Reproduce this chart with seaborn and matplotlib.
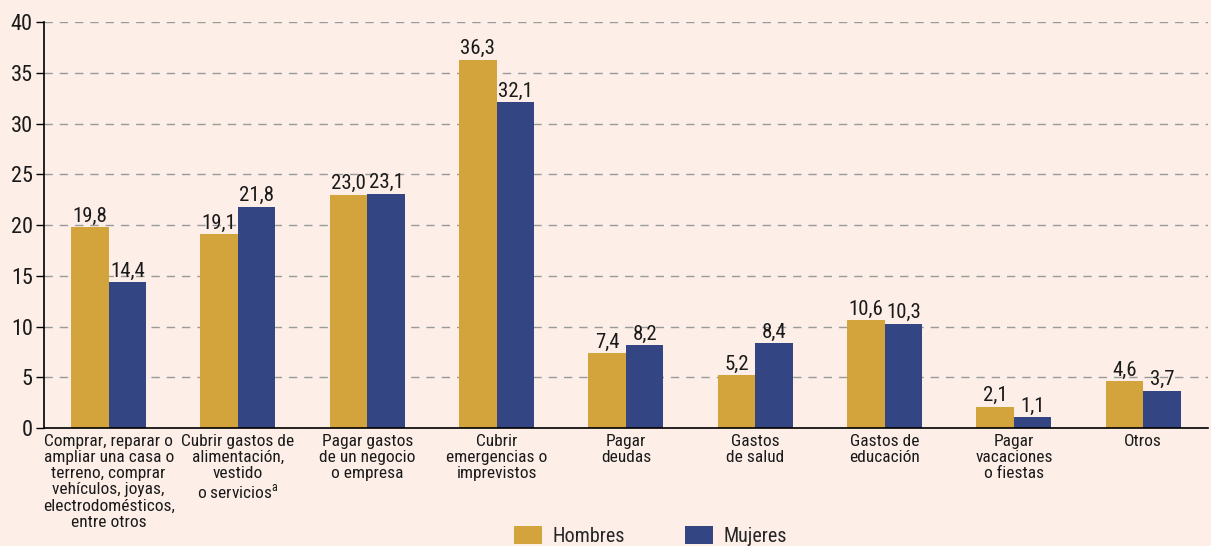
import matplotlib.pyplot as plt
import pandas as pd
import seaborn as sns

categories = [
    "Comprar, reparar o\nampliar una casa o\nterreno, comprar\nvehículos, joyas,\nelectrodomésticos,\nentre otros",
    "Cubrir gastos de\nalimentación,\nvestido\no servicios$^{\\mathregular{a}}$",
    "Pagar gastos\nde un negocio\no empresa",
    "Cubrir\nemergencias o\nimprevistos",
    "Pagar\ndeudas",
    "Gastos\nde salud",
    "Gastos de\neducación",
    "Pagar\nvacaciones\no fiestas",
    "Otros",
]
hombres = [19.8, 19.1, 23.0, 36.3, 7.4, 5.2, 10.6, 2.1, 4.6]
mujeres = [14.4, 21.8, 23.1, 32.1, 8.2, 8.4, 10.3, 1.1, 3.7]
series = ["Hombres", "Mujeres"]
y_ticks = [0, 5, 10, 15, 20, 25, 30, 35, 40]

bg = "#fdeee8"
colors = {"Hombres": "#d4a43c", "Mujeres": "#334582"}

df = pd.DataFrame({
    "cat": categories * 2,
    "serie": ["Hombres"] * len(categories) + ["Mujeres"] * len(categories),
    "valor": hombres + mujeres,
})

sns.set_theme(style="white")
plt.rcParams["font.family"] = ["Roboto Condensed", "Liberation Sans", "DejaVu Sans"]
plt.rcParams["mathtext.fontset"] = "custom"
plt.rcParams["mathtext.rm"] = "Roboto Condensed"

fig = plt.figure(figsize=(12.11, 5.46), dpi=100, facecolor=bg)
ax = fig.add_axes([0.0363, 0.216, 0.9612, 0.7437])
ax.set_facecolor(bg)

sns.barplot(data=df, x="cat", y="valor", hue="serie", hue_order=series,
            palette=colors, width=0.58, saturation=1, ax=ax,
            edgecolor="none", legend=True)

for cont in ax.containers:
    labels = [f"{b.get_height():.1f}".replace(".", ",") for b in cont]
    ax.bar_label(cont, labels=labels, padding=1, fontsize=15, color="#1a1a1a")

ax.set_ylim(0, 40)
ax.set_yticks(y_ticks)
ax.set_xlim(-0.5, len(categories) - 0.5)
ax.yaxis.grid(True, linestyle=(0, (6, 5)), color="#9a9a9a", linewidth=1)
ax.set_axisbelow(True)

ax.set_xticks([i + 0.5 for i in range(len(categories) - 1)])
ax.set_xticklabels([])
ax.set_xticks(range(len(categories)), minor=True)
ax.set_xticklabels(categories, minor=True, fontsize=12.5, linespacing=1.1,
                   va="top", color="#1a1a1a")
ax.tick_params(axis="x", which="minor", length=0, pad=4)
ax.tick_params(axis="x", which="major", length=5, width=1, color="black", direction="out")
ax.tick_params(axis="y", length=6, width=1, color="black", labelsize=16,
               pad=2, left=True, labelcolor="#1a1a1a")

for s in ["top", "right"]:
    ax.spines[s].set_visible(False)
for s in ["left", "bottom"]:
    ax.spines[s].set_color("black")
    ax.spines[s].set_linewidth(1.2)

ax.set_xlabel("")
ax.set_ylabel("")

handles, lbls = ax.get_legend_handles_labels()
ax.legend_.remove()
fig.legend(handles, lbls, loc="center", bbox_to_anchor=(0.537, 0.018), ncol=2,
           frameon=False, fontsize=14.5, handlelength=1.4, handleheight=1.0,
           columnspacing=3.0, handletextpad=0.5)

fig.savefig("out.png", dpi=100, facecolor=bg)
